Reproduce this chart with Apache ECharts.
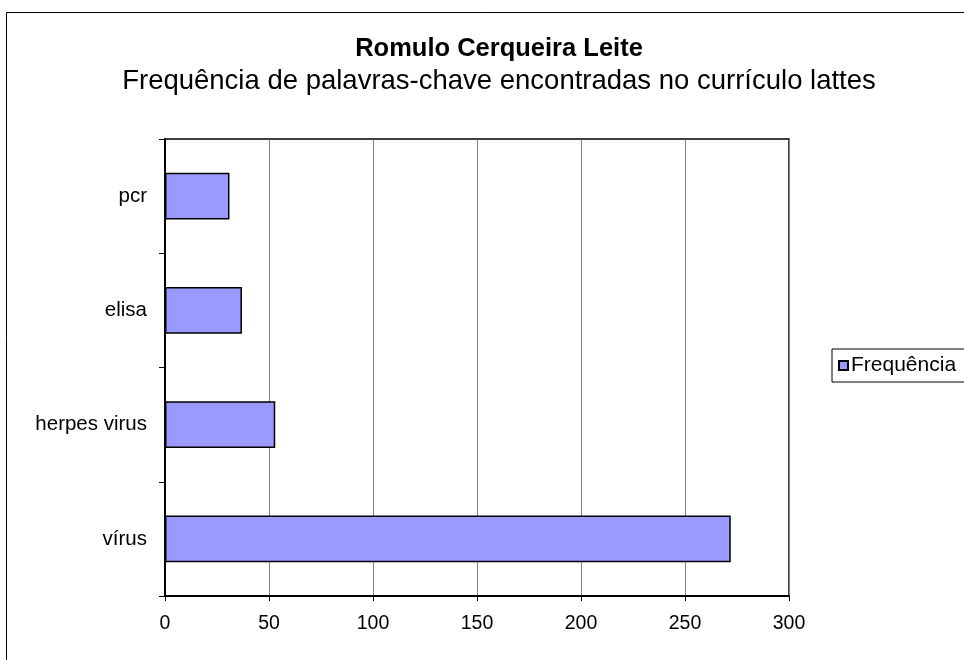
<!DOCTYPE html>
<html>
<head>
<meta charset="utf-8">
<script src="https://cdn.jsdelivr.net/npm/echarts@6/dist/echarts.min.js"></script>
<style>html,body{margin:0;padding:0;background:#fff}#c{width:964px;height:660px}</style>
</head>
<body>
<div id="c"></div>
<script>
var categories = ['vírus', 'herpes virus', 'elisa', 'pcr'];
var frequencia = [272, 53, 37, 31];
var xTicks = [0, 50, 100, 150, 200, 250, 300];

var chart = echarts.init(document.getElementById('c'), null, {renderer: 'canvas'});
var font = '"Liberation Sans", Arial, sans-serif';
chart.setOption({
  animation: false,
  backgroundColor: '#fff',
  textStyle: {fontFamily: font},
  graphic: [{
    type: 'rect', left: 4, top: 10,
    shape: {width: 980, height: 700},
    style: {fill: 'none', stroke: '#000', lineWidth: 1}, z: -1
  }],
  title: [{
    text: 'Romulo Cerqueira Leite',
    left: 494, top: 31, textAlign: 'center',
    textStyle: {fontFamily: font, fontSize: 25.5, fontWeight: 'bold', color: '#000'}
  }, {
    text: 'Frequência de palavras-chave encontradas no currículo lattes',
    left: 494, top: 62, textAlign: 'center',
    textStyle: {fontFamily: font, fontSize: 27.5, fontWeight: 'normal', color: '#000'}
  }],
  legend: {
    left: 832, top: 349,
    orient: 'vertical',
    data: ['Frequência'],
    itemWidth: 9, itemHeight: 9, itemGap: 5,
    borderColor: '#000', borderWidth: 1,
    padding: [6, 40, 6, 6],
    textStyle: {fontFamily: font, fontSize: 21, color: '#000', padding: [0,0,0,-2]},
    icon: 'rect'
  },
  grid: {left: 165, top: 139, right: 175, bottom: 64, show: true, borderColor: '#000', borderWidth: 1.5},
  xAxis: {
    type: 'value', min: 0, max: 300, interval: 50,
    axisLine: {show: true, lineStyle: {color: '#000', width: 2}},
    axisTick: {show: true, length: 5, lineStyle: {color: '#000'}},
    axisLabel: {fontFamily: font, fontSize: 19.5, color: '#000', margin: 18,
      formatter: function (v) { return xTicks.indexOf(v) >= 0 ? String(v) : ''; }},
    splitLine: {show: true, lineStyle: {color: '#808080', width: 1}}
  },
  yAxis: {
    type: 'category', data: categories,
    axisLine: {show: true, lineStyle: {color: '#000', width: 2}},
    axisTick: {show: true, length: 6, lineStyle: {color: '#000'}},
    axisLabel: {fontFamily: font, fontSize: 20.5, color: '#000', margin: 18},
    splitLine: {show: false}
  },
  series: [{
    name: 'Frequência',
    type: 'bar',
    data: frequencia,
    barCategoryGap: '59%',
    itemStyle: {color: '#9999ff', borderColor: '#000', borderWidth: 1.5}
  }]
});
</script>
</body>
</html>
